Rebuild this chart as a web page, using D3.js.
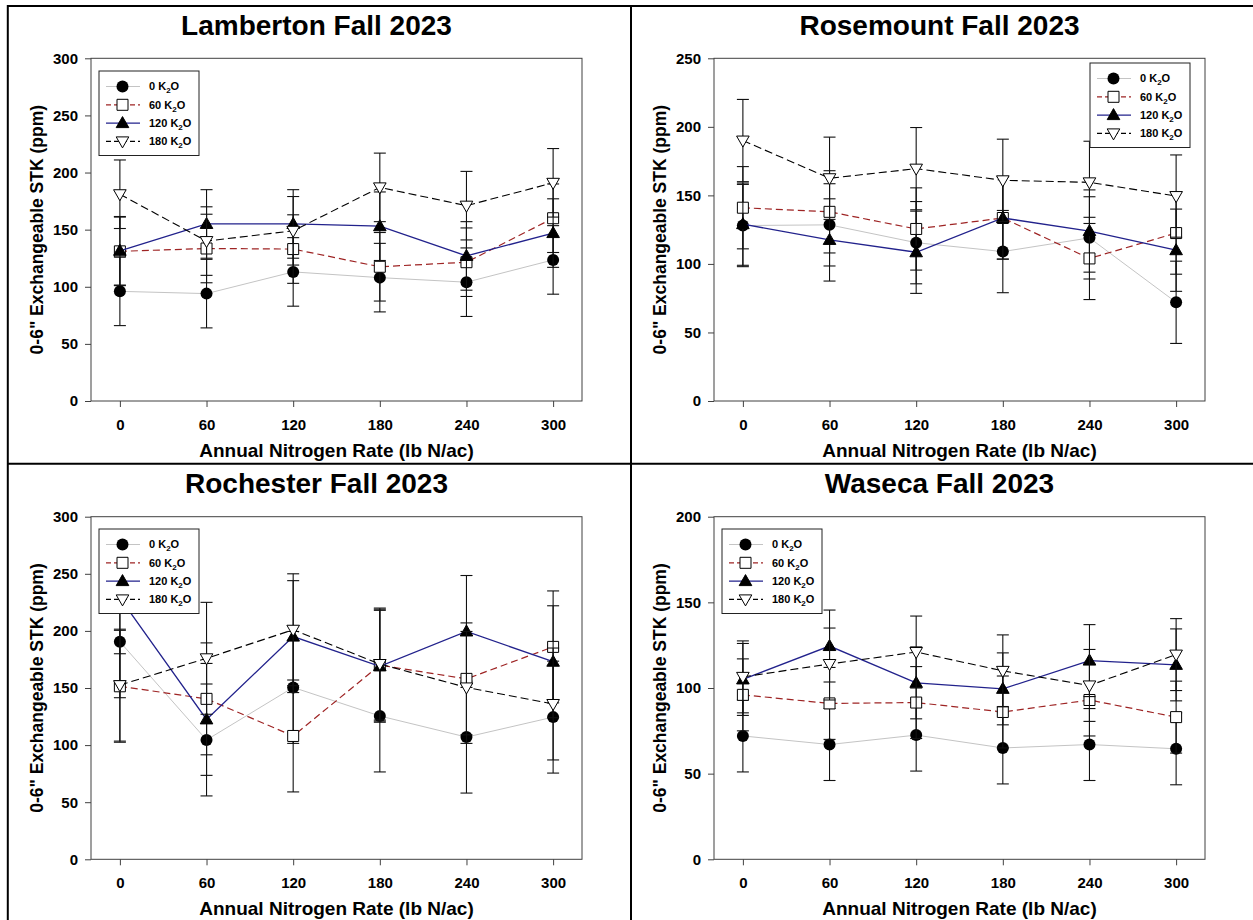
<!DOCTYPE html>
<html><head><meta charset="utf-8">
<script src="https://cdn.jsdelivr.net/npm/d3@7"></script>
<style>
body{margin:0;background:#fff}
svg{display:block}
text{font-family:"Liberation Sans",Arial,sans-serif;font-weight:bold;fill:#000}
</style>
</head><body><svg id="c" width="1253" height="920"></svg>
<script>
// ---- data ----
const nRates = [0, 60, 120, 180, 240, 300];
const seriesNames = ["0", "60", "120", "180"];   // K2O rates (legend: "<n> K2O")

const lambertonK0   = [96, 94, 113, 108, 104, 123.5];
const lambertonK60  = [131, 133.5, 133, 117.5, 121.5, 160];
const lambertonK120 = [131.5, 155, 155, 153, 127, 147];
const lambertonK180 = [181, 140, 149, 187, 171, 191];
const lambertonSE = 30;

const rosemountK0   = [128, 128.5, 115.5, 109, 119, 72];
const rosemountK60  = [141, 138, 125.5, 133.5, 104, 122.5];
const rosemountK120 = [129, 117.5, 108.5, 133.5, 124, 110];
const rosemountK180 = [190, 162.5, 169.5, 161, 159.5, 149.5];
const rosemountSE = 30;

const rochesterK0   = [190.5, 104.5, 150.5, 125.5, 107, 124.5];
const rochesterK60  = [151.5, 140.5, 108, 170, 158, 186];
const rochesterK120 = [229, 122.5, 195, 169, 199.5, 173];
const rochesterK180 = [152.5, 176, 201, 171, 150.5, 136];
const rochesterSE = 49;

const wasecaK0   = [72, 67, 72.5, 65, 67, 64.5];
const wasecaK60  = [96, 91, 91.5, 86, 93, 83];
const wasecaK120 = [105, 124.5, 103, 99.5, 116, 113.5];
const wasecaK180 = [106.5, 114, 121, 110, 101.5, 119.5];
const wasecaSE = 21;

const yTicksLamberton = [0, 50, 100, 150, 200, 250, 300];
const yTicksRosemount = [0, 50, 100, 150, 200, 250];
const yTicksRochester = [0, 50, 100, 150, 200, 250, 300];
const yTicksWaseca    = [0, 50, 100, 150, 200];

const xLabel = "Annual Nitrogen Rate (lb N/ac)";
const yLabel = "0-6\" Exchangeable STK (ppm)";

// ---- styles ----
const seriesStyle = [
  {color: "#c4c4c4", dash: null, width: 1, marker: "circle"},
  {color: "#9e2424", dash: "7,4", width: 1.2, marker: "square"},
  {color: "#22228c", dash: null, width: 1.3, marker: "triUp"},
  {color: "#000000", dash: "8,4", width: 1.1, marker: "triDown"}
];

const panels = [
  {title: "Lamberton Fall 2023", data: [lambertonK0, lambertonK60, lambertonK120, lambertonK180], se: lambertonSE,
   yTicks: yTicksLamberton, L: 91, R: 582, T: 58.3, B: 401, leg: {x: 99, y: 71}},
  {title: "Rosemount Fall 2023", data: [rosemountK0, rosemountK60, rosemountK120, rosemountK180], se: rosemountSE,
   yTicks: yTicksRosemount, L: 714, R: 1205, T: 58.3, B: 401, leg: {x: 1090, y: 63}},
  {title: "Rochester Fall 2023", data: [rochesterK0, rochesterK60, rochesterK120, rochesterK180], se: rochesterSE,
   yTicks: yTicksRochester, L: 91, R: 582, T: 516.7, B: 859.3, leg: {x: 99, y: 529}},
  {title: "Waseca Fall 2023", data: [wasecaK0, wasecaK60, wasecaK120, wasecaK180], se: wasecaSE,
   yTicks: yTicksWaseca, L: 714, R: 1205, T: 516.7, B: 859.3, leg: {x: 722, y: 529}}
];

const svg = d3.select("#c");

// table grid lines
const grid = svg.append("g").attr("stroke", "#000").attr("stroke-width", 2);
grid.append("line").attr("x1", 7).attr("x2", 1253).attr("y1", 6).attr("y2", 6);
grid.append("line").attr("x1", 7).attr("x2", 1253).attr("y1", 463.8).attr("y2", 463.8);
grid.append("line").attr("x1", 7.8).attr("x2", 7.8).attr("y1", 5).attr("y2", 920);
grid.append("line").attr("x1", 631).attr("x2", 631).attr("y1", 5).attr("y2", 920);

function markerPath(type) {
  switch (type) {
    case "square": return "M-5.5,-5.5H5.5V5.5H-5.5Z";
    case "triUp": return "M0,-6.5L6.3,4.5L-6.3,4.5Z";
    case "triDown": return "M-6.3,-4.5L6.3,-4.5L0,6.5Z";
    default: return null;
  }
}
function drawMarker(g, type, x, y) {
  if (type === "circle") {
    g.append("circle").attr("cx", x).attr("cy", y).attr("r", 6).attr("fill", "#000");
  } else {
    const filled = type === "triUp";
    g.append("path").attr("d", markerPath(type)).attr("transform", `translate(${x},${y})`)
      .attr("fill", filled ? "#000" : "#fff").attr("stroke", "#000").attr("stroke-width", 1);
  }
}

panels.forEach(p => {
  const x = d3.scaleLinear().domain([-20, 320]).range([p.L, p.R]);
  const yMax = p.yTicks[p.yTicks.length - 1];
  const y = d3.scaleLinear().domain([0, yMax]).range([p.B, p.T]);
  const g = svg.append("g");

  // frame
  g.append("rect").attr("x", p.L).attr("y", p.T).attr("width", p.R - p.L).attr("height", p.B - p.T)
    .attr("fill", "none").attr("stroke", "#404040").attr("stroke-width", 1);

  // axes
  const ax = g.append("g").attr("transform", `translate(0,${p.B})`)
    .call(d3.axisBottom(x).tickValues(nRates).tickSize(6).tickPadding(12.3).tickFormat(d3.format("d")));
  const ay = g.append("g").attr("transform", `translate(${p.L},0)`)
    .call(d3.axisLeft(y).tickValues(p.yTicks).tickSize(6).tickPadding(7).tickFormat(d3.format("d")));
  [ax, ay].forEach(a => {
    a.select(".domain").remove();
    a.selectAll(".tick line").attr("stroke", "#404040");
    a.selectAll(".tick text").attr("font-size", 15).attr("font-family", "Liberation Sans, Arial, sans-serif")
      .attr("font-weight", "bold").attr("fill", "#000");
  });

  // titles
  g.append("text").attr("x", (p.L + p.R) / 2 - 20).attr("y", p.T - 23.5).attr("text-anchor", "middle")
    .attr("font-size", 28).text(p.title);
  g.append("text").attr("x", (p.L + p.R) / 2).attr("y", p.B + 56).attr("text-anchor", "middle")
    .attr("font-size", 19).text(xLabel);
  g.append("text").attr("transform", `translate(${p.L - 48},${(p.T + p.B) / 2}) rotate(-90)`)
    .attr("text-anchor", "middle").attr("font-size", 17.5).text(yLabel);

  // series
  p.data.forEach((vals, si) => {
    const st = seriesStyle[si];
    const sg = g.append("g");
    // error bars
    vals.forEach((v, i) => {
      const cx = x(nRates[i]);
      const y1 = y(v - p.se), y2 = y(v + p.se);
      sg.append("line").attr("x1", cx).attr("x2", cx).attr("y1", y1).attr("y2", y2)
        .attr("stroke", "#111").attr("stroke-width", 1.1);
      [y1, y2].forEach(yy => sg.append("line").attr("x1", cx - 6).attr("x2", cx + 6).attr("y1", yy).attr("y2", yy)
        .attr("stroke", "#111").attr("stroke-width", 1.1));
    });
    const line = d3.line().x((d, i) => x(nRates[i])).y(d => y(d));
    sg.append("path").attr("d", line(vals)).attr("fill", "none").attr("stroke", st.color)
      .attr("stroke-width", st.width).attr("stroke-dasharray", st.dash);
    vals.forEach((v, i) => drawMarker(sg, st.marker, x(nRates[i]), y(v)));
  });

  // legend
  const lg = g.append("g").attr("transform", `translate(${p.leg.x},${p.leg.y})`);
  lg.append("rect").attr("width", 100).attr("height", 84.5).attr("fill", "#fff")
    .attr("stroke", "#222").attr("stroke-width", 1);
  seriesNames.forEach((n, si) => {
    const st = seriesStyle[si];
    const ry = 15.5 + si * 18.3;
    lg.append("line").attr("x1", 7).attr("x2", 41).attr("y1", ry).attr("y2", ry)
      .attr("stroke", st.color).attr("stroke-width", st.width).attr("stroke-dasharray", st.dash ? "5,3" : null);
    drawMarker(lg, st.marker, 23.5, ry);
    const t = lg.append("text").attr("x", 50).attr("y", ry + 3.8).attr("font-size", 11);
    t.append("tspan").text(n + " K");
    t.append("tspan").attr("font-size", 8).attr("dy", 3).text("2");
    t.append("tspan").attr("dy", -3).text("O");
  });
});
</script></body></html>
